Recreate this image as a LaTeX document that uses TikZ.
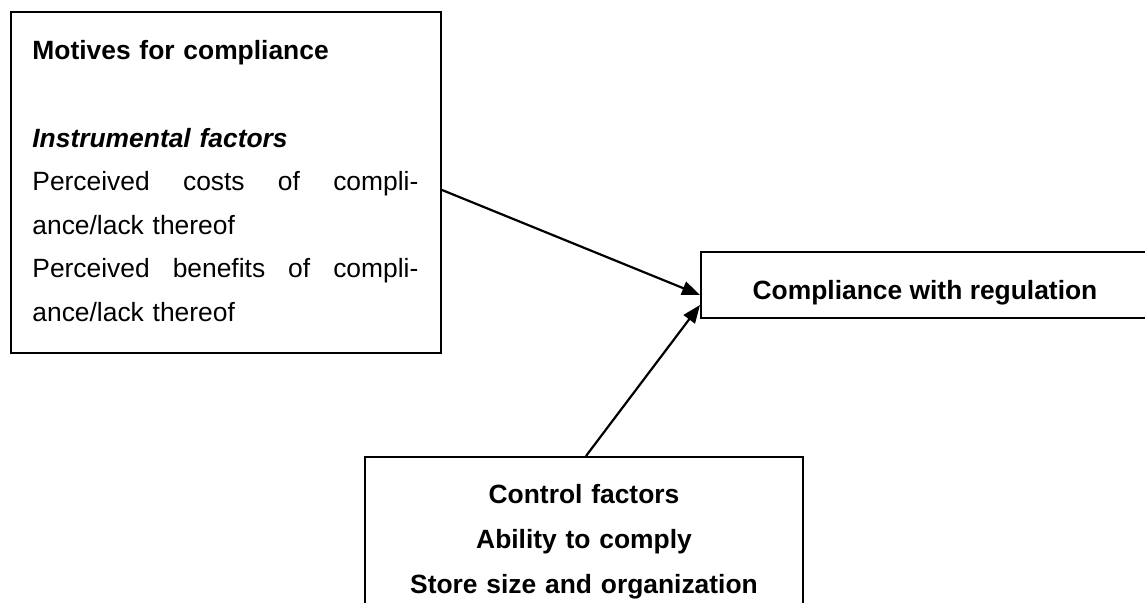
\documentclass[tikz,border=0pt]{standalone}
\usepackage{fontspec}
\setmainfont{Liberation Sans}
\usetikzlibrary{arrows.meta, positioning}

\begin{document}
\begin{tikzpicture}[
  x=0.5pt, y=-0.5pt,
  box/.style={rectangle, draw, line width=1pt, inner sep=0pt},
  words/.style={inner sep=0pt, font=\fontsize{13.2}{21.8}\selectfont},
  arrow/.style={-{Triangle[length=9pt, width=7pt]}, line width=1.1pt}
]
  \useasboundingbox (0,0) rectangle (1145,603);
  % Motives
  \node[box, minimum width=215pt, minimum height=170.5pt, anchor=north west] (motives) at (10,11) {};
  \node[words, text width=193pt, align=left, anchor=base west] (motivestext) at (32,60)
    {\textbf{Motives for compliance}\\[\baselineskip]
     \textbf{\textit{Instrumental factors}}\\
     Perceived\hfill costs\hfill of\hfill compli-\\
     ance/lack thereof\\
     Perceived\hfill benefits\hfill of\hfill compli-\\
     ance/lack thereof};
  % Compliance
  \node[box, minimum width=225pt, minimum height=33pt, anchor=north west] (comply) at (700,251) {};
  \node[words, font=\fontsize{13.2}{21.8}\selectfont\bfseries, anchor=base] (complytext) at (925,300)
    {Compliance with regulation};
  % Control factors
  \node[box, minimum width=219pt, minimum height=85pt, anchor=north west] (control) at (364,456) {};
  \node[words, font=\fontsize{13.2}{22.5}\selectfont\bfseries, text width=200pt, align=center, anchor=base] (controltext) at (584,503)
    {Control factors\\ Ability to comply\\ Store size and organization};
  % Arrows
  \draw[arrow] ([yshift=-3.75pt]motives.east) -- ([yshift=-5pt]comply.west);
  \draw[arrow] ([xshift=1pt]control.north) -- ([yshift=-10pt]comply.west);
\end{tikzpicture}
\end{document}
